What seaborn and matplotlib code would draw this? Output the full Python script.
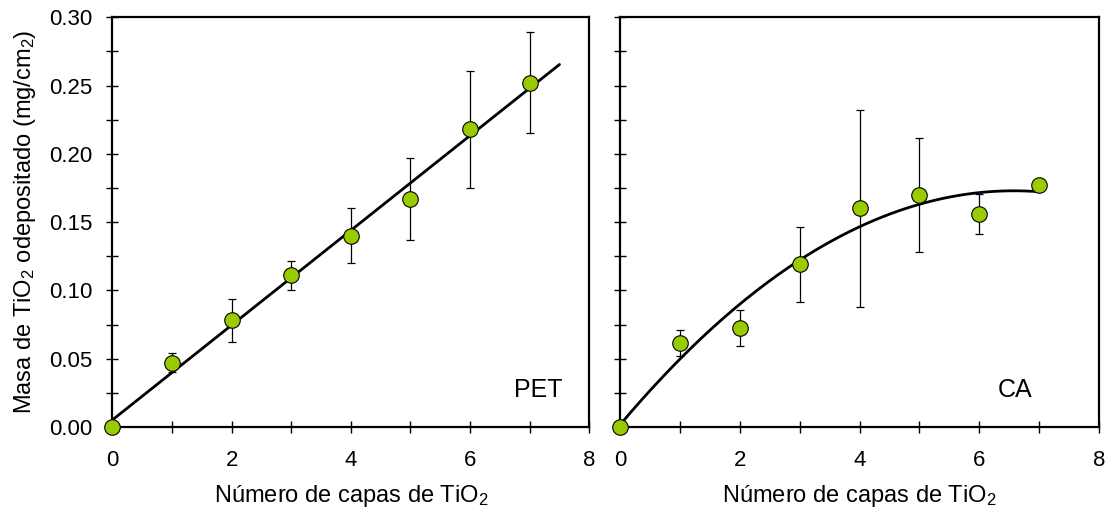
import numpy as np
import pandas as pd
import matplotlib
matplotlib.use("Agg")
import matplotlib.pyplot as plt
import seaborn as sns

# Layers of TiO2 and deposited mass (mg/cm2) with standard deviations
capas = [0, 1, 2, 3, 4, 5, 6, 7]
masa_pet = [0.0, 0.047, 0.078, 0.111, 0.140, 0.167, 0.218, 0.252]
err_pet = [0.0, 0.007, 0.016, 0.0105, 0.020, 0.030, 0.043, 0.037]
masa_ca = [0.0, 0.0616, 0.0726, 0.1192, 0.1602, 0.170, 0.156, 0.1775]
err_ca = [0.0, 0.0093, 0.013, 0.0275, 0.072, 0.0415, 0.0145, 0.0]

x_ticks = [0, 2, 4, 6, 8]
y_ticks = [0.00, 0.05, 0.10, 0.15, 0.20, 0.25, 0.30]

sns.set_style("ticks")
plt.rcParams["font.family"] = ["Liberation Sans", "DejaVu Sans"]
plt.rcParams["mathtext.fontset"] = "custom"
plt.rcParams["mathtext.rm"] = "Liberation Sans"
plt.rcParams["mathtext.it"] = "Liberation Sans:italic"
plt.rcParams["mathtext.bf"] = "Liberation Sans:bold"
for key in ["text.color", "axes.labelcolor", "xtick.color", "ytick.color",
            "axes.edgecolor"]:
    plt.rcParams[key] = "black"

fig = plt.figure(figsize=(11.09, 5.20), dpi=100)
ax1 = fig.add_axes([0.1013, 0.1788, 0.4301, 0.7880])
ax2 = fig.add_axes([0.5591, 0.1788, 0.4319, 0.7880], sharey=ax1)

GREEN = "#99CC00"
TIO2 = r"TiO$_\mathregular{2}$"
TICK_FS = 16
LABEL_FS = 17


def panel(ax, y, err, deg, x_end, label, label_x):
    df = pd.DataFrame({"capas": capas, "masa": y})
    # fitted trend (linear for PET, quadratic for CA)
    coef = np.polyfit(capas, y, deg)
    xf = np.linspace(0, x_end, 200)
    fit = pd.DataFrame({"capas": xf, "masa": np.polyval(coef, xf)})
    sns.lineplot(data=fit, x="capas", y="masa", ax=ax, color="black",
                 lw=2.0, zorder=2)
    ax.errorbar(capas, y, yerr=err, fmt="none", ecolor="black",
                elinewidth=0.9, capsize=3.0, capthick=0.9, zorder=3)
    sns.scatterplot(data=df, x="capas", y="masa", ax=ax, s=125,
                    color=GREEN, edgecolor="black", linewidth=0.8,
                    zorder=4, clip_on=False)
    ax.set_xlim(0, 8)
    ax.set_ylim(0, 0.30)
    ax.set_xticks(x_ticks)
    ax.set_xticks([1, 3, 5, 7], minor=True)
    ax.set_yticks(y_ticks)
    ax.set_yticks(np.arange(0.025, 0.30, 0.05), minor=True)
    ax.tick_params(axis="x", which="both", direction="inout", length=8.5,
                   width=1.0, labelsize=TICK_FS, pad=12)
    ax.tick_params(axis="y", which="both", direction="inout", length=8.5,
                   width=1.0, labelsize=TICK_FS, pad=10)
    for s in ax.spines.values():
        s.set_linewidth(1.6)
        s.set_visible(True)
    ax.set_xlabel("Número de capas de " + TIO2, fontsize=LABEL_FS,
                  labelpad=9)
    ax.text(label_x, 0.027, label, fontsize=18, ha="right", va="center")


panel(ax1, masa_pet, err_pet, 1, 7.5, "PET", 7.55)
panel(ax2, masa_ca, err_ca, 2, 7.0, "CA", 6.88)

ax1.yaxis.set_major_formatter(matplotlib.ticker.FormatStrFormatter("%.2f"))
ax1.set_ylabel("Masa de " + TIO2 + r" odepositado (mg/cm$_\mathregular{2}$)",
               fontsize=LABEL_FS, labelpad=8)
ax2.set_ylabel("")
ax2.tick_params(axis="y", labelleft=False)

fig.savefig("out.png", dpi=100)
